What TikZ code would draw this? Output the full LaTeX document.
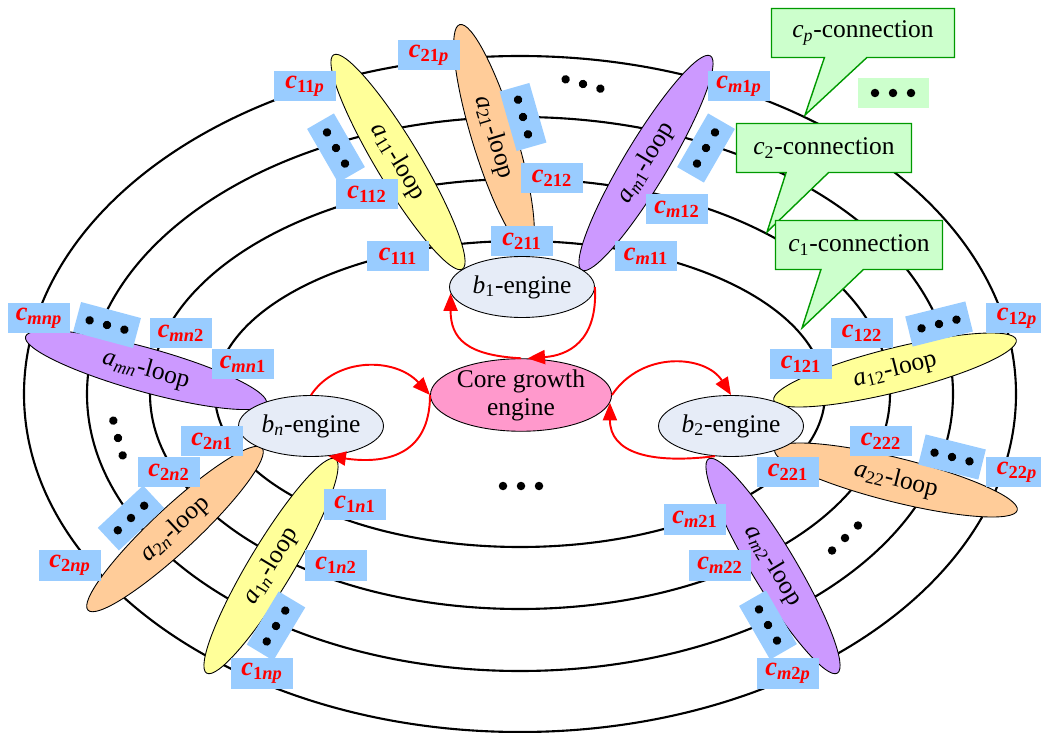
\documentclass[tikz,border=0pt]{standalone}
\usepackage{fontspec}
\setmainfont{Liberation Serif}
\usetikzlibrary{shapes.geometric,shapes.callouts,arrows.meta}
\definecolor{loopyellow}{HTML}{FFFF99}
\definecolor{looporange}{HTML}{FFCC99}
\definecolor{looppurple}{HTML}{CC99FF}
\definecolor{enginefill}{HTML}{E6ECF7}
\definecolor{corefill}{HTML}{FF99CC}
\definecolor{labelblue}{HTML}{99CCFF}
\definecolor{connfill}{HTML}{CCFFCC}
\definecolor{conngreen}{HTML}{009900}
\newcommand{\bigfont}{\fontsize{14.5}{16}\selectfont}
\newcommand{\labfont}{\fontsize{15}{16}\selectfont\bfseries}
\newcommand{\clab}[1]{\textit{c}\textsubscript{#1}}
\newcommand{\threedots}{\tikz\foreach \k in {0,1,2} \fill (\k*0.36cm,0cm) circle (0.085cm);}
\begin{document}
\begin{tikzpicture}[x=0.02cm,y=-0.02cm,
  ring/.style={line width=1.2pt},
  loopy/.style={ellipse,draw,line width=.5pt,minimum width=5cm,minimum height=.88cm,inner sep=0pt,font=\bigfont},
  engine/.style={ellipse,draw,line width=.5pt,fill=enginefill,minimum width=2.9cm,minimum height=1.22cm,inner sep=0pt,font=\bigfont},
  clabel/.style={fill=labelblue,text=red,minimum width=1.24cm,minimum height=.62cm,inner sep=0pt,font=\labfont},
  dotbox/.style={fill=labelblue,minimum width=1.24cm,minimum height=.62cm,inner sep=0pt},
  feed/.style={red,line width=1.1pt,-{Triangle[length=10pt,width=8pt]}},
  conn/.style={rectangle callout,draw=conngreen,line width=.8pt,fill=connfill,minimum height=.98cm,font=\bigfont,callout pointer width=.85cm}]
  \useasboundingbox (0,0) rectangle (1041,733);

  % rings
  \foreach \rx/\ry in {496/338,433/277,370/215,305/153}
    \draw[ring] (520,394) ellipse [x radius=\rx, y radius=\ry];

  % loops
  \path (398,162) node[loopy,fill=loopyellow,rotate=-59] (a11) {\textit{a}\textsubscript{11}-loop};
  \path (494,137) node[loopy,fill=looporange,rotate=-73,minimum width=4.7cm] (a21) {\textit{a}\textsubscript{21}-loop};
  \path (646,163) node[loopy,fill=looppurple,rotate=59] (am1) {\textit{a}\textsubscript{\textit{m}1}-loop};
  \path (895,370) node[loopy,fill=loopyellow,rotate=14] (a12) {\textit{a}\textsubscript{12}-loop};
  \path (896,480) node[loopy,fill=looporange,rotate=-14] (a22) {\textit{a}\textsubscript{22}-loop};
  \path (773,566) node[loopy,fill=looppurple,rotate=-59] (am2) {\textit{a}\textsubscript{\textit{m}2}-loop};
  \path (146,370) node[loopy,fill=looppurple,rotate=-15.5] (amn) {\textit{a}\textsubscript{\textit{mn}}-loop};
  \path (175,529) node[loopy,fill=looporange,rotate=43,minimum width=4.76cm] (a2n) {\textit{a}\textsubscript{2\textit{n}}-loop};
  \path (271,566) node[loopy,fill=loopyellow,rotate=59] (a1n) {\textit{a}\textsubscript{1\textit{n}}-loop};

  % engines
  \path (522,287) node[engine] (b1) {\textit{b}\textsubscript{1}-engine};
  \path (521,395) node[engine,fill=corefill,minimum width=3.46cm,minimum height=1.2cm,align=center] (core) {Core growth\\engine};
  \path (731,426) node[engine] (b2) {\textit{b}\textsubscript{2}-engine};
  \path (311,426) node[engine] (bn) {\textit{b}\textsubscript{\textit{n}}-engine};

  \draw[feed] (b1.east) .. controls +(3,55) and +(40,-3) .. (core.80); %b1-core
  \draw[feed] (core.north) .. controls +(-55,-3) and +(0,45) .. (b1.185); %core-b1
  \draw[feed] (bn.north) .. controls +(25,-38) and +(-35,-38) .. (core.west); %bn-core
  \draw[feed] (core.west) .. controls +(0,62) and +(55,8) .. (bn.-60); %core-bn
  \draw[feed] (core.east) .. controls +(30,-45) and +(-25,-40) .. (b2.north); %core-b2
  \draw[feed] (b2.-118) .. controls +(-65,8) and +(0,50) .. (core.-5); %b2-core

  % dots
  \path (336,148) node[dotbox,rotate=-60] (d11) {\threedots};
  \path (523,117) node[dotbox,rotate=-74] (d21) {\threedots};
  \path (706,148) node[dotbox,rotate=60] (dm1) {\threedots};
  \path (107,325) node[dotbox,rotate=-15] (dmn) {\threedots};
  \path (131,518) node[dotbox,rotate=43] (d2n) {\threedots};
  \path (276,626) node[dotbox,rotate=59] (d1n) {\threedots};
  \path (939,324) node[dotbox,rotate=14] (d12) {\threedots};
  \path (952,457) node[dotbox,rotate=-14] (d22) {\threedots};
  \path (768,625) node[dotbox,rotate=-60] (dm2) {\threedots};
  \path (583,84) node[rotate=-15] (topdots) {\threedots};
  \path (521,486) node (middots) {\threedots};
  \path (118,438) node[rotate=-75] (leftdots) {\threedots};
  \path (845,538) node[rotate=44] (rightdots) {\threedots};

  % connection labels
  \path (305,86) node[clabel] (c11p) {\clab{11\textit{p}}};
  \path (429,55) node[clabel] (c21p) {\clab{21\textit{p}}};
  \path (367,194) node[clabel] (c112) {\clab{112}};
  \path (398,256) node[clabel] (c111) {\clab{111}};
  \path (739,86) node[clabel] (cm1p) {\clab{\textit{m}1\textit{p}}};
  \path (552,178) node[clabel] (c212) {\clab{212}};
  \path (677,209) node[clabel] (cm12) {\clab{\textit{m}12}};
  \path (522,241) node[clabel] (c211) {\clab{211}};
  \path (646,256) node[clabel] (cm11) {\clab{\textit{m}11}};
  \path (39,318) node[clabel] (cmnp) {\clab{\textit{mnp}}};
  \path (181,333) node[clabel] (cmn2) {\clab{\textit{mn}2}};
  \path (243,364) node[clabel] (cmn1) {\clab{\textit{mn}1}};
  \path (212,441) node[clabel] (c2n1) {\clab{2\textit{n}1}};
  \path (169,472) node[clabel] (c2n2) {\clab{2\textit{n}2}};
  \path (70,565) node[clabel] (c2np) {\clab{2\textit{np}}};
  \path (355,504) node[clabel] (c1n1) {\clab{1\textit{n}1}};
  \path (336,565) node[clabel] (c1n2) {\clab{1\textit{n}2}};
  \path (262,673) node[clabel] (c1np) {\clab{1\textit{np}}};
  \path (862,333) node[clabel] (c122) {\clab{122}};
  \path (1017,318) node[clabel] (c12p) {\clab{12\textit{p}}};
  \path (801,364) node[clabel] (c121) {\clab{121}};
  \path (881,441) node[clabel] (c222) {\clab{222}};
  \path (1017,472) node[clabel] (c22p) {\clab{22\textit{p}}};
  \path (788,472) node[clabel] (c221) {\clab{221}};
  \path (695,519) node[clabel] (cm21) {\clab{\textit{m}21}};
  \path (720,565) node[clabel] (cm22) {\clab{\textit{m}22}};
  \path (788,673) node[clabel] (cm2p) {\clab{\textit{m}2\textit{p}}};

  % callouts
  \path (863,33) node[conn,minimum width=3.66cm,callout absolute pointer={(805,115)}] (cpconn) {\textit{c}\textsubscript{\textit{p}}-connection};
  \path (893,93) node[fill=connfill,minimum width=1.42cm,minimum height=.6cm] (conndots) {\threedots};
  \path (824,148) node[conn,minimum width=3.5cm,callout absolute pointer={(767,232)}] (c2conn) {\textit{c}\textsubscript{2}-connection};
  \path (859,245) node[conn,minimum width=3.34cm,callout absolute pointer={(802,328)}] (c1conn) {\textit{c}\textsubscript{1}-connection};
\end{tikzpicture}
\end{document}
